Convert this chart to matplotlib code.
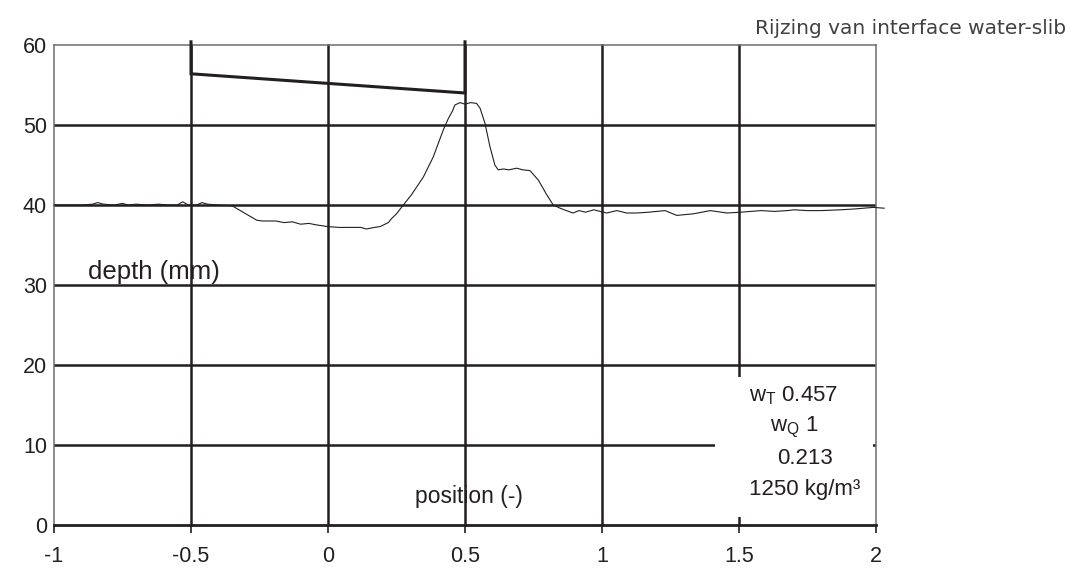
import numpy as np
import matplotlib
matplotlib.use("Agg")
import matplotlib.pyplot as plt
from matplotlib.patches import Rectangle

plt.rcParams['font.family'] = ['Liberation Sans', 'DejaVu Sans']
plt.rcParams['mathtext.fontset'] = 'custom'
plt.rcParams['mathtext.rm'] = 'Liberation Sans'
plt.rcParams['mathtext.it'] = 'Liberation Sans'

# interface profile
pos = [-1.00, -0.95, -0.90, -0.86, -0.84, -0.82, -0.78, -0.75, -0.73, -0.70,
       -0.66, -0.62, -0.58, -0.55, -0.53, -0.51, -0.48, -0.46, -0.44, -0.40,
       -0.35, -0.30, -0.26, -0.24, -0.19, -0.16, -0.13, -0.10, -0.07, -0.04,
       0.00, 0.04, 0.08, 0.12, 0.14, 0.17, 0.19, 0.22, 0.232, 0.25, 0.275,
       0.305, 0.348, 0.384, 0.421, 0.439, 0.455, 0.463, 0.482, 0.50, 0.52,
       0.542, 0.555, 0.573, 0.591, 0.609, 0.621, 0.64, 0.66, 0.689, 0.71,
       0.737, 0.768, 0.798, 0.822, 0.847, 0.87, 0.894, 0.916, 0.94, 0.97,
       1.017, 1.054, 1.09, 1.127, 1.17, 1.23, 1.273, 1.334, 1.395, 1.456,
       1.505, 1.58, 1.63, 1.677, 1.70, 1.75, 1.80, 1.87, 1.92, 1.99, 2.03]
depth = [40.0, 40.0, 40.0, 40.1, 40.3, 40.1, 40.0, 40.2, 40.0, 40.1,
         40.0, 40.1, 40.0, 40.0, 40.4, 40.0, 40.0, 40.3, 40.1, 40.0,
         39.9, 38.9, 38.1, 38.0, 38.0, 37.8, 37.9, 37.6, 37.7, 37.5,
         37.3, 37.2, 37.2, 37.2, 37.0, 37.2, 37.3, 37.8, 38.3, 38.9, 40.0,
         41.3, 43.5, 46.0, 49.4, 50.8, 51.8, 52.5, 52.8, 52.6, 52.8,
         52.7, 52.1, 50.2, 47.3, 45.0, 44.4, 44.5, 44.4, 44.6, 44.4,
         44.3, 43.1, 41.3, 40.0, 39.6, 39.3, 39.0, 39.3, 39.1, 39.4,
         39.0, 39.3, 39.0, 39.0, 39.1, 39.3, 38.7, 38.9, 39.3, 39.0,
         39.1, 39.3, 39.2, 39.3, 39.4, 39.3, 39.3, 39.4, 39.5, 39.7, 39.6]

bracket_x = [-0.5, -0.5, 0.5, 0.5]
bracket_y = [60.4, 56.4, 54.0, 60.4]

xticks = [-1, -0.5, 0, 0.5, 1, 1.5, 2]
xlabels = ['-1', '-0.5', '0', '0.5', '1', '1.5', '2']
yticks = [0, 10, 20, 30, 40, 50, 60]

info = [(1.70, 16.2, r'w$_\mathrm{T}$ 0.457'),
        (1.70, 12.2, r'w$_\mathrm{Q}$ 1'),
        (1.74, 8.3, '0.213'),
        (1.74, 4.4, '1250 kg/m³')]

dark = '#231f20'
grey = '#6d6e71'

fig = plt.figure(figsize=(10.69, 5.68), dpi=100)
ax = fig.add_axes([54 / 1069, 43 / 568, 822 / 1069, 480 / 568])
ax.set_xlim(-1, 2)
ax.set_ylim(0, 60)

# grid
for yy in yticks[1:-1]:
    ax.plot([-1, 2], [yy, yy], color=dark, lw=1.8, zorder=1)
for xx in xticks[1:-1]:
    ax.plot([xx, xx], [0, 60], color=dark, lw=1.8, zorder=1, clip_on=False)

# white box behind the annotation
ax.add_patch(Rectangle((1.412, 1.0), 0.577, 17.5, facecolor='white',
                       edgecolor='none', zorder=2))

ax.plot(pos, depth, color=dark, lw=0.8, zorder=3, clip_on=False)
ax.plot(bracket_x, bracket_y, color=dark, lw=2.2, zorder=4, clip_on=False,
        solid_joinstyle='miter')

for sp in ['left', 'top', 'right']:
    ax.spines[sp].set_color(grey)
    ax.spines[sp].set_linewidth(1.1)
ax.spines['bottom'].set_color(dark)
ax.spines['bottom'].set_linewidth(2.0)

ax.set_xticks(xticks)
ax.set_xticklabels(xlabels)
ax.set_yticks(yticks)
ax.tick_params(axis='x', direction='out', length=6, width=1.2, color=dark,
               labelsize=15.5, labelcolor=dark, pad=9)
ax.tick_params(axis='y', length=0, labelsize=15.5, labelcolor=dark, pad=5)

for tx, ty, s in info:
    ax.text(tx, ty, s, ha='center', va='center', fontsize=16, color=dark,
            zorder=5)

ax.text(-0.876, 31.6, 'depth (mm)', ha='left', va='center', fontsize=18.5,
        color=dark, zorder=5)
ax.text(0.318, 3.5, 'position (-)', ha='left', va='center', fontsize=16.5,
        color=dark, zorder=5)

fig.text(1066 / 1069, 1 - 29 / 568, 'Rijzing van interface water-slib',
         ha='right', va='center', fontsize=14.5, color='#414042',
         family=['DejaVu Sans'])

fig.savefig('out.png', dpi=100)
